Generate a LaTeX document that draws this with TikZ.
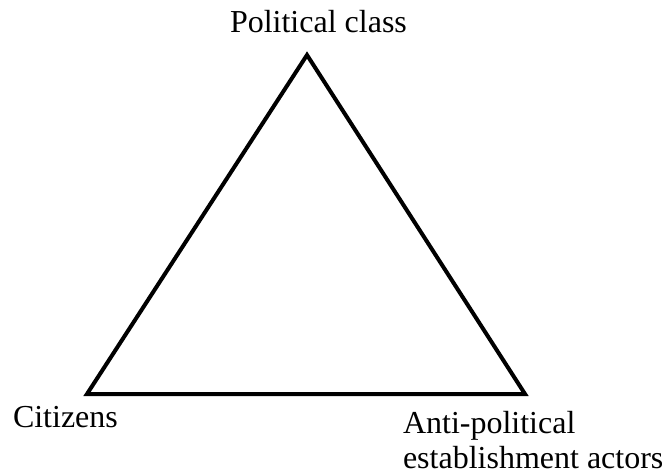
\documentclass[tikz,border=0pt]{standalone}
\usepackage{fontspec}
\setmainfont{Liberation Serif}
\begin{document}
\begin{tikzpicture}[x=1pt,y=1pt,
  lbl/.style={inner sep=0pt,outer sep=0pt,font=\fontsize{32}{35}\selectfont,align=left},
  edge/.style={line width=4pt,line join=miter}]
\useasboundingbox (0,0) rectangle (662,475);
\coordinate (top) at (307,420);
\coordinate (bl) at (87,81);
\coordinate (br) at (525,81);
\draw[edge] (top) -- (bl) -- (br) -- cycle;
\node[lbl,anchor=base west] (pc) at (230,442) {Political class};
\node[lbl,anchor=base west] (cit) at (13,48) {Citizens};
\node[lbl,anchor=base west] (ape) at (403,7) {Anti-political\\establishment actors};
\end{tikzpicture}
\end{document}
